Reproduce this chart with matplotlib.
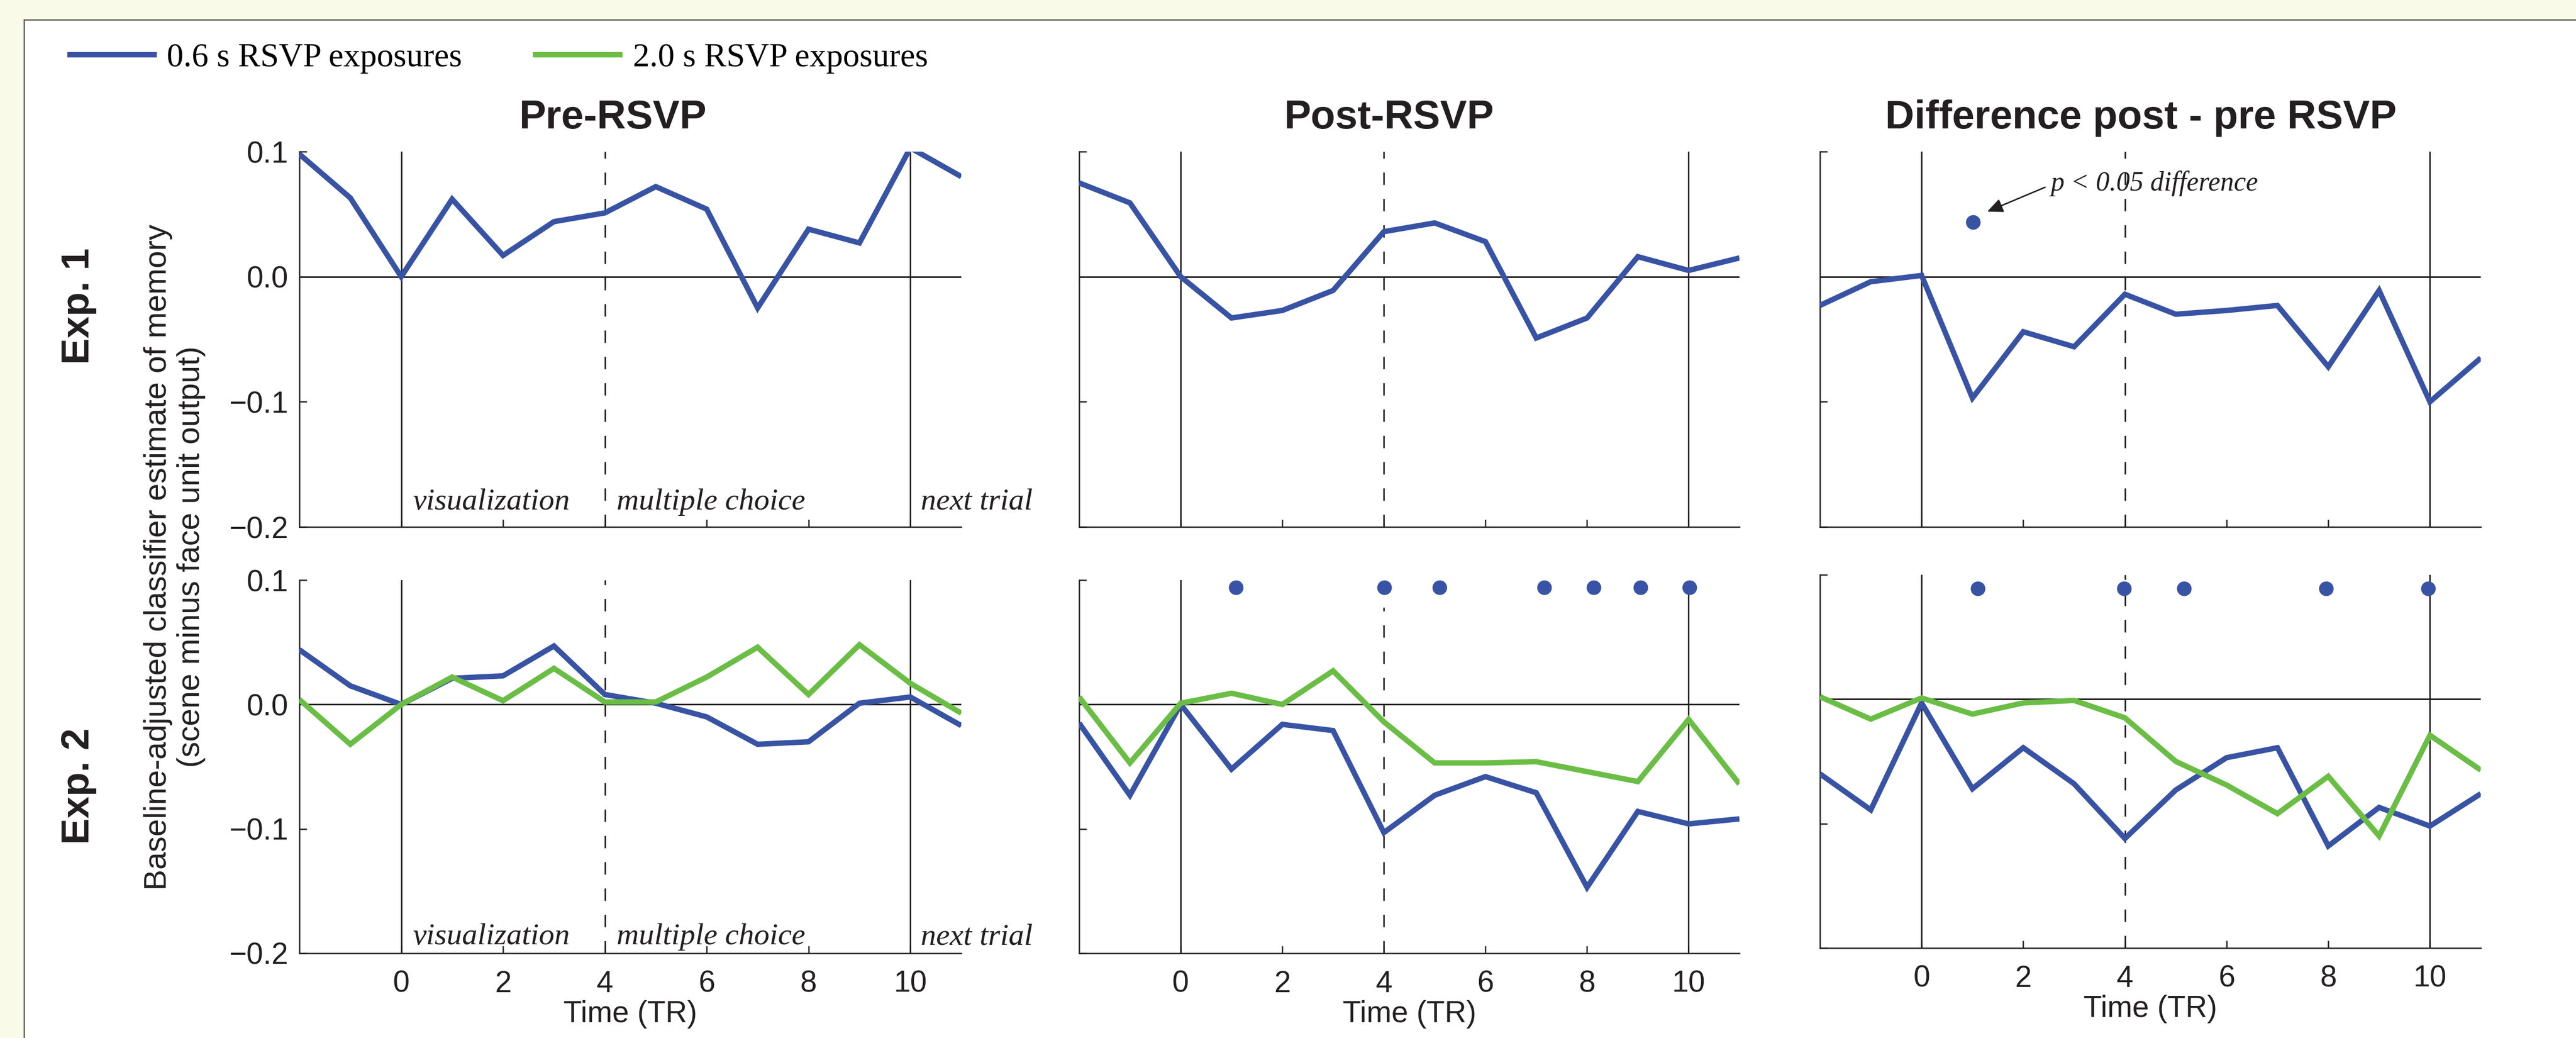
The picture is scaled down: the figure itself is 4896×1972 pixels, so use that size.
import matplotlib
matplotlib.use('Agg')
import matplotlib.pyplot as plt
import numpy as np
from matplotlib.patches import Rectangle
from matplotlib.lines import Line2D

plt.rcParams['font.family'] = ['Liberation Sans', 'DejaVu Sans']
SERIF = ['Liberation Serif', 'DejaVu Serif']

BLUE = '#3953A4'
GREEN = '#6ABD45'
INK = '#231F20'
CREAM = '#F9FAE7'

# time points (TR) for every curve
time = np.arange(-2, 12)

# Exp. 1, 0.6 s RSVP exposures only
exp1_pre_06 = [0.098, 0.063, 0.000, 0.062, 0.017, 0.044, 0.051, 0.072, 0.054, -0.025, 0.038, 0.027, 0.103, 0.080]
exp1_post_06 = [0.075, 0.059, 0.000, -0.033, -0.027, -0.011, 0.036, 0.043, 0.028, -0.049, -0.033, 0.016, 0.005, 0.015]
exp1_diff_06 = [-0.023, -0.004, 0.001, -0.097, -0.044, -0.056, -0.014, -0.030, -0.027, -0.023, -0.072, -0.011, -0.100, -0.065]

# Exp. 2, both exposure durations
exp2_pre_06 = [0.044, 0.015, 0.000, 0.021, 0.023, 0.047, 0.008, 0.001, -0.010, -0.032, -0.030, 0.001, 0.006, -0.017]
exp2_pre_20 = [0.004, -0.032, 0.000, 0.022, 0.003, 0.029, 0.002, 0.002, 0.022, 0.046, 0.008, 0.048, 0.017, -0.007]
exp2_post_06 = [-0.015, -0.073, 0.000, -0.052, -0.016, -0.021, -0.103, -0.073, -0.058, -0.071, -0.147, -0.086, -0.096, -0.092]
exp2_post_20 = [0.006, -0.047, 0.001, 0.009, 0.000, 0.027, -0.014, -0.047, -0.047, -0.046, -0.054, -0.062, -0.012, -0.064]
exp2_diff_06 = [-0.060, -0.089, -0.003, -0.072, -0.039, -0.068, -0.112, -0.073, -0.047, -0.039, -0.118, -0.087, -0.102, -0.076]
exp2_diff_20 = [0.002, -0.016, 0.001, -0.012, -0.003, -0.001, -0.015, -0.050, -0.069, -0.092, -0.062, -0.110, -0.029, -0.057]

# significance markers (p < 0.05 difference)
exp1_note_x = [1.01]
exp1_note_y = [0.0435]
exp2_post_sig_x = [1.09, 4.01, 5.1, 7.16, 8.13, 9.05, 10.02]
exp2_post_sig_y = [0.094, 0.094, 0.094, 0.094, 0.094, 0.094, 0.094]
exp2_diff_sig_x = [1.11, 3.98, 5.16, 7.96, 9.97]
exp2_diff_sig_y = [0.089, 0.089, 0.089, 0.089, 0.089]

xticks = [0, 2, 4, 6, 8, 10]
yticks = [-0.2, -0.1, 0.0, 0.1]
ytick_labels = ['\u22120.2', '\u22120.1', '0.0', '0.1']
col_titles = ['Pre-RSVP', 'Post-RSVP', 'Difference post - pre RSVP']
phase_labels = [(0.22, 'visualization'), (4.23, 'multiple choice'), (10.2, 'next trial')]

W, H, DPI = 4896, 1972, 200
fig = plt.figure(figsize=(W / DPI, H / DPI), dpi=DPI, facecolor=CREAM)

# white sheet with a rule on top and left
fig.patches.append(Rectangle((46 / W, 0), 1, 1 - 38 / H, transform=fig.transFigure,
                             facecolor='white', edgecolor='none', zorder=-10))
fig.add_artist(Line2D([46 / W, 46 / W], [0, 1 - 38 / H], transform=fig.transFigure, color='#4A4A4A', lw=0.8))
fig.add_artist(Line2D([46 / W, 1], [1 - 38 / H, 1 - 38 / H], transform=fig.transFigure, color='#4A4A4A', lw=0.8))


def box(l, t, r, b):
    return [l / W, 1 - b / H, (r - l) / W, (b - t) / H]


def setup(ax, show_x, show_y, vtops=(0.1, 0.1, 0.1)):
    ax.set_facecolor('none')
    ax.set_xlim(-2, 11)
    ax.set_ylim(-0.2, 0.1)
    for s in ['top', 'right']:
        ax.spines[s].set_visible(False)
    for s in ['left', 'bottom']:
        ax.spines[s].set_linewidth(0.9)
        ax.spines[s].set_color(INK)
    ax.set_xticks(xticks)
    ax.set_yticks(yticks)
    ax.tick_params(direction='in', length=5, width=0.9, labelsize=20.5, colors=INK)
    ax.tick_params(axis='y', pad=7.5)
    ax.tick_params(axis='x', pad=11.5)
    if show_x:
        ax.set_xlabel('Time (TR)', fontsize=20.5, labelpad=1, color=INK)
    else:
        ax.set_xticklabels([])
    if show_y:
        ax.set_yticklabels(ytick_labels)
    else:
        ax.set_yticklabels([])
    ax.axhline(0, color=INK, lw=1.1, zorder=1)
    for xv, top, ls in zip([0, 4, 10], vtops, ['-', (0, (8.5, 9.5)), '-']):
        ax.plot([xv, xv], [-0.2, top], color=INK, lw=1.0, ls=ls, zorder=1)


def curve(ax, vals, color):
    return ax.plot(time, vals, color=color, lw=3.7, solid_joinstyle='miter',
                   solid_capstyle='butt', zorder=3)[0]


def phases(ax, yv):
    for xv, txt in phase_labels:
        ax.text(xv, yv, txt, family=SERIF, style='italic', fontsize=21,
                ha='left', va='baseline', color=INK)


axA = fig.add_axes(box(569, 288, 1827, 1001))
axB = fig.add_axes(box(2051, 288, 3306, 1001))
axC = fig.add_axes(box(3459, 288, 4715, 1001))
axD = fig.add_axes(box(569, 1102, 1827, 1811))
axE = fig.add_axes(box(2051, 1102, 3306, 1811))
axF = fig.add_axes(box(3459, 1092, 4715, 1801))

setup(axA, False, True)
setup(axB, False, False)
setup(axC, False, False)
setup(axD, True, True)
setup(axE, True, False, vtops=(0.1, 0.078, 0.09))
setup(axF, True, False)

for ax, title, xt in zip([axA, axB, axC], col_titles, [0.474, 0.47, 0.486]):
    ax.set_title(title, x=xt, pad=16, fontsize=27.5, fontweight='bold', color=INK)

h06 = curve(axA, exp1_pre_06, BLUE)
curve(axB, exp1_post_06, BLUE)
curve(axC, exp1_diff_06, BLUE)

curve(axD, exp2_pre_06, BLUE)
h20 = curve(axD, exp2_pre_20, GREEN)
curve(axE, exp2_post_06, BLUE)
curve(axE, exp2_post_20, GREEN)
curve(axF, exp2_diff_06, BLUE)
curve(axF, exp2_diff_20, GREEN)

phases(axA, -0.186)
phases(axD, -0.193)

dot = dict(ls='none', marker='o', ms=10, color=BLUE, mec='none', zorder=4, clip_on=False)
axC.plot(exp1_note_x, exp1_note_y, **dot)
axE.plot(exp2_post_sig_x, exp2_post_sig_y, **dot)
axF.plot(exp2_diff_sig_x, exp2_diff_sig_y, **dot)

axC.annotate('', xy=(1.29, 0.052), xytext=(2.43, 0.0715),
             arrowprops=dict(arrowstyle='-|>,head_length=0.45,head_width=0.2', color=INK,
                             lw=1.0, mutation_scale=20, shrinkA=0, shrinkB=0))
axC.text(2.53, 0.069, 'p < 0.05 difference', family=SERIF, style='italic',
         fontsize=18.6, ha='left', va='baseline', color=INK)

fig.legend([h06, h20], ['0.6 s RSVP exposures', '2.0 s RSVP exposures'],
           loc='center left', bbox_to_anchor=(128 / W, 1 - 111 / H), ncol=2,
           frameon=False, borderpad=0, borderaxespad=0, handlelength=2.68,
           handletextpad=0.31, columnspacing=2.13,
           prop={'family': SERIF, 'size': 22.8})

fig.text(150 / W, 1 - 581 / H, 'Exp. 1', rotation=90, fontsize=27, fontweight='bold',
         ha='center', va='center', color=INK)
fig.text(150 / W, 1 - 1493 / H, 'Exp. 2', rotation=90, fontsize=27, fontweight='bold',
         ha='center', va='center', color=INK)
fig.text(332 / W, 1 - 1058 / H,
         'Baseline-adjusted classifier estimate of memory\n(scene minus face unit output)',
         rotation=90, fontsize=21.5, ha='center', va='center', multialignment='center',
         linespacing=1.2, color=INK)

fig.savefig('out.png', dpi=DPI, facecolor=CREAM)
